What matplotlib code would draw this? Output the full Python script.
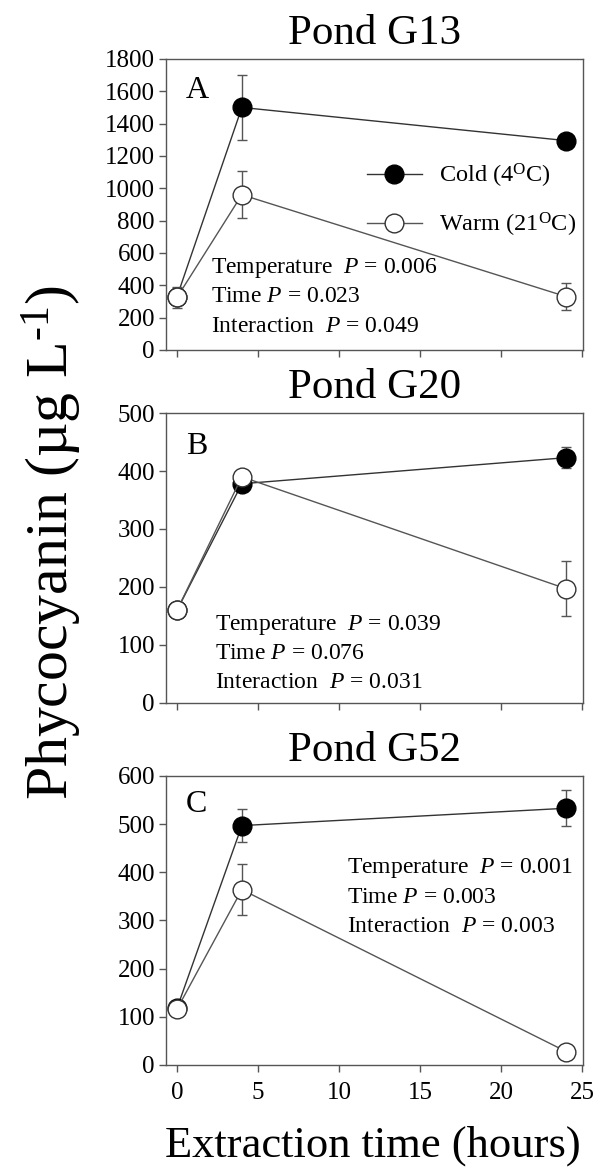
import matplotlib
matplotlib.use("Agg")
import matplotlib.pyplot as plt
import numpy as np

plt.rcParams["font.family"] = ["Liberation Serif", "DejaVu Serif"]
plt.rcParams["mathtext.fontset"] = "custom"
plt.rcParams["mathtext.rm"] = "Liberation Serif"
plt.rcParams["mathtext.it"] = "Liberation Serif:italic"

# extraction times (hours)
hours = [0, 4, 24]

ponds = ["Pond G13", "Pond G20", "Pond G52"]
letters = ["A", "B", "C"]

cold_a = [330, 1500, 1295]
cold_a_err = [55, 200, 25]
warm_a = [325, 960, 330]
warm_a_err = [65, 145, 85]

cold_b = [160, 378, 423]
cold_b_err = [8, 10, 18]
warm_b = [160, 390, 197]
warm_b_err = [8, 10, 47]

cold_c = [118, 497, 533]
cold_c_err = [10, 35, 37]
warm_c = [116, 364, 28]
warm_c_err = [10, 53, 5]

ymax = [1800, 500, 600]
ystep = [200, 100, 100]

stats_labels = ["Temperature  ", "Time ", "Interaction  "]
p_a = ["0.006", "0.023", "0.049"]
p_b = ["0.039", "0.076", "0.031"]
p_c = ["0.001", "0.003", "0.003"]

cold = [cold_a, cold_b, cold_c]
cold_err = [cold_a_err, cold_b_err, cold_c_err]
warm = [warm_a, warm_b, warm_c]
warm_err = [warm_a_err, warm_b_err, warm_c_err]
pvals = [p_a, p_b, p_c]

# axes boxes in figure fraction: (left, bottom, width, height)
boxes = [
    (0.279, 0.7014, 0.701, 0.2483),
    (0.279, 0.4002, 0.701, 0.2474),
    (0.279, 0.0913, 0.701, 0.2466),
]
# where the statistics block sits (axes fraction x, y of first line)
stat_pos = [(0.107, 0.282), (0.118, 0.27), (0.434, 0.68)]
letter_y = [0.893, 0.883, 0.90]

fig = plt.figure(figsize=(5.95, 11.72), dpi=100)
spine_col = "#555555"

for i in range(3):
    ax = fig.add_axes(boxes[i])
    c1 = ax.errorbar(hours, cold[i], yerr=cold_err[i], color="#333333", lw=1,
                     marker="o", ms=13.5, mfc="black", mec="black",
                     ecolor="#555555", elinewidth=1, capsize=3.5, capthick=1,
                     zorder=2)
    c2 = ax.errorbar(hours, warm[i], yerr=warm_err[i], color="#555555", lw=1,
                     marker="o", ms=13.5, mfc="white", mec="#333333", mew=1,
                     ecolor="#555555", elinewidth=1, capsize=3.5, capthick=1,
                     zorder=3)

    ax.set_xlim(-0.68, 25.05)
    ax.set_ylim(0, ymax[i])
    ax.set_xticks(np.arange(0, 26, 5))
    ax.set_yticks(np.arange(0, ymax[i] + 1, ystep[i]))
    ax.tick_params(axis="both", direction="out", length=5, width=1,
                   color=spine_col, labelsize=18)
    ax.tick_params(axis="y", pad=3)
    ax.tick_params(axis="x", pad=7)
    if i < 2:
        ax.tick_params(axis="x", labelbottom=False)
    for sp in ax.spines.values():
        sp.set_color(spine_col)
        sp.set_linewidth(1)

    ax.set_title(ponds[i], fontsize=31, pad=11)
    ax.text(0.074, letter_y[i], letters[i], transform=ax.transAxes,
            fontsize=23, ha="center", va="center")

    sx, sy = stat_pos[i]
    for k in range(3):
        ax.text(sx, sy - 0.1 * k, stats_labels[k] + "$P$ = " + pvals[i][k],
                transform=ax.transAxes, fontsize=17, ha="left", va="center")

    if i == 0:
        ax.legend([c1[0], c2[0]], ["Cold (4$^{\\rm O}$C)", "Warm (21$^{\\rm O}$C)"],
                  loc="center left", bbox_to_anchor=(0.482, 0.515),
                  frameon=False, fontsize=17.5, borderpad=0, borderaxespad=0,
                  handlelength=2.25, handletextpad=0.7, labelspacing=0.85,
                  numpoints=1)

fig.text(0.0874, 0.5375, "Phycocyanin (µg L$^{\\text{-1}}$)", rotation=90,
         fontsize=43, ha="center", va="center")
fig.text(0.627, 0.0128, "Extraction time (hours)", fontsize=32,
         ha="center", va="baseline")

fig.savefig("out.png", dpi=100)
